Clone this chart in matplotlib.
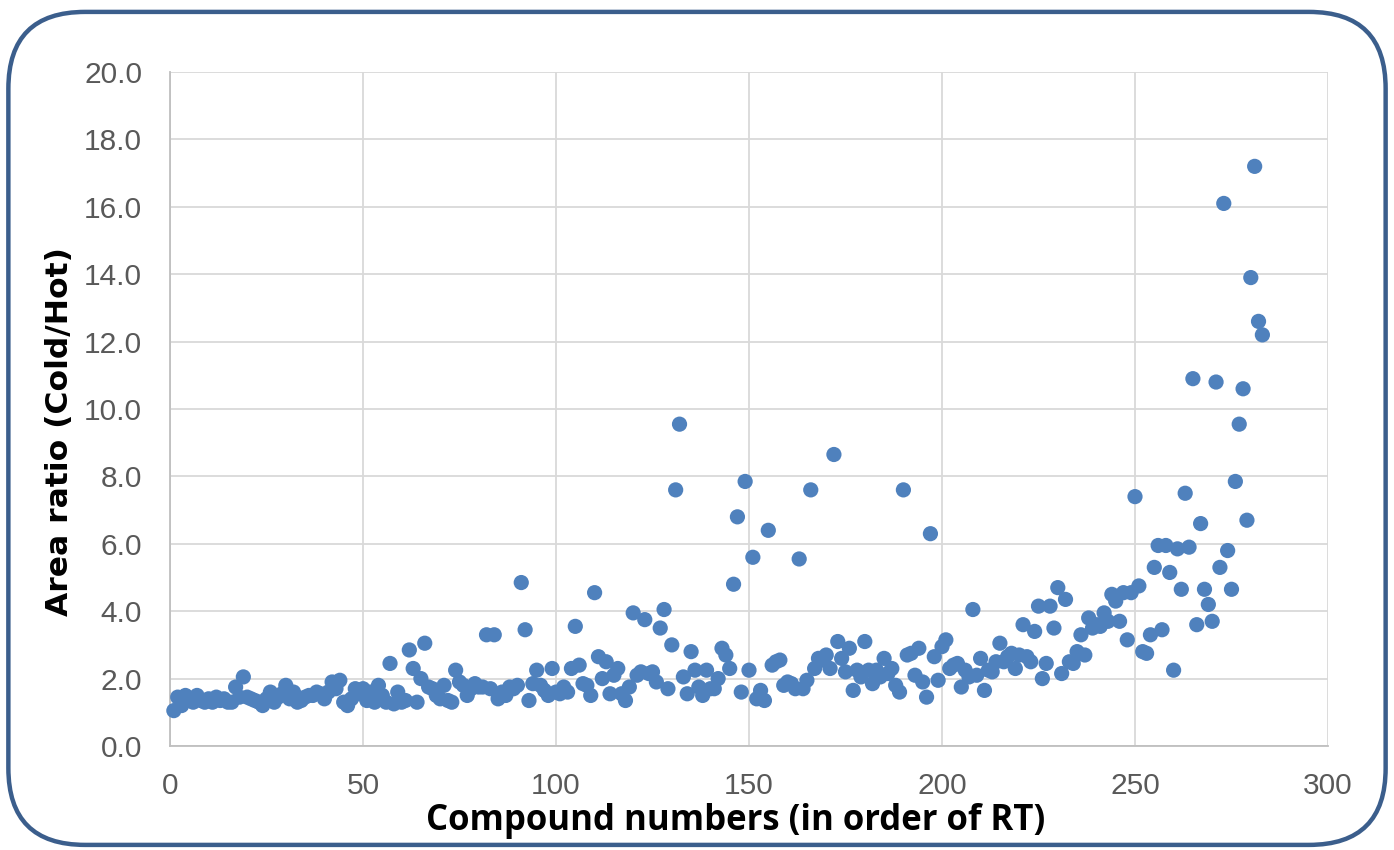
import matplotlib
matplotlib.use("Agg")
import matplotlib.pyplot as plt
from matplotlib.patches import FancyBboxPatch
from matplotlib.ticker import FormatStrFormatter, MultipleLocator

area_ratio = [
    1.05, 1.45, 1.2, 1.5, 1.35, 1.3, 1.5, 1.35, 1.3, 1.4,
    1.3, 1.45, 1.35, 1.4, 1.3, 1.3, 1.75, 1.45, 2.05, 1.45,
    1.4, 1.35, 1.3, 1.2, 1.4, 1.6, 1.3, 1.45, 1.55, 1.8,
    1.4, 1.6, 1.3, 1.35, 1.45, 1.5, 1.5, 1.6, 1.55, 1.4,
    1.6, 1.9, 1.7, 1.95, 1.3, 1.2, 1.4, 1.7, 1.55, 1.7,
    1.35, 1.6, 1.3, 1.8, 1.5, 1.3, 2.45, 1.25, 1.6, 1.3,
    1.35, 2.85, 2.3, 1.3, 2.0, 3.05, 1.75, 1.7, 1.5, 1.4,
    1.8, 1.35, 1.3, 2.25, 1.9, 1.8, 1.5, 1.7, 1.85, 1.75,
    1.75, 3.3, 1.7, 3.3, 1.4, 1.6, 1.5, 1.75, 1.7, 1.8,
    4.85, 3.45, 1.35, 1.85, 2.25, 1.8, 1.65, 1.5, 2.3, 1.6,
    1.55, 1.75, 1.6, 2.3, 3.55, 2.4, 1.85, 1.8, 1.5, 4.55,
    2.65, 2.0, 2.5, 1.55, 2.1, 2.3, 1.55, 1.35, 1.75, 3.95,
    2.1, 2.2, 3.75, 2.15, 2.2, 1.9, 3.5, 4.05, 1.7, 3.0,
    7.6, 9.55, 2.05, 1.55, 2.8, 2.25, 1.75, 1.5, 2.25, 1.7,
    1.7, 2.0, 2.9, 2.7, 2.3, 4.8, 6.8, 1.6, 7.85, 2.25,
    5.6, 1.4, 1.65, 1.35, 6.4, 2.4, 2.5, 2.55, 1.8, 1.9,
    1.85, 1.7, 5.55, 1.7, 1.95, 7.6, 2.3, 2.6, 2.55, 2.7,
    2.3, 8.65, 3.1, 2.6, 2.2, 2.9, 1.65, 2.25, 2.05, 3.1,
    2.25, 1.85, 2.25, 2.05, 2.6, 2.15, 2.3, 1.8, 1.6, 7.6,
    2.7, 2.75, 2.1, 2.9, 1.9, 1.45, 6.3, 2.65, 1.95, 2.95,
    3.15, 2.3, 2.4, 2.45, 1.75, 2.25, 2.05, 4.05, 2.1, 2.6,
    1.65, 2.25, 2.2, 2.5, 3.05, 2.5, 2.65, 2.75, 2.3, 2.7,
    3.6, 2.65, 2.5, 3.4, 4.15, 2.0, 2.45, 4.15, 3.5, 4.7,
    2.15, 4.35, 2.5, 2.45, 2.8, 3.3, 2.7, 3.8, 3.5, 3.6,
    3.55, 3.95, 3.7, 4.5, 4.3, 3.7, 4.55, 3.15, 4.55, 7.4,
    4.75, 2.8, 2.75, 3.3, 5.3, 5.95, 3.45, 5.95, 5.15, 2.25,
    5.85, 4.65, 7.5, 5.9, 10.9, 3.6, 6.6, 4.65, 4.2, 3.7,
    10.8, 5.3, 16.1, 5.8, 4.65, 7.85, 9.55, 10.6, 6.7, 13.9,
    17.2, 12.6, 12.2,
]
compound_numbers = list(range(1, len(area_ratio) + 1))

x_label = "Compound numbers (in order of RT)"
y_label = "Area ratio (Cold/Hot)"

plt.rcParams['font.family'] = ['Liberation Sans', 'DejaVu Sans']

W, H = 1394, 850
fig = plt.figure(figsize=(W / 100, H / 100), dpi=100)
border = FancyBboxPatch((0.006, 0.006), 0.988, 0.98,
                        boxstyle="round,pad=0,rounding_size=0.055",
                        transform=fig.transFigure, fill=False,
                        edgecolor="#3B5E8C", linewidth=3.2,
                        mutation_aspect=W / H)
fig.patches.append(border)

ax = fig.add_axes([170 / W, 1 - 746 / H, (1328 - 170) / W, (746 - 72) / H])
ax.scatter(compound_numbers, area_ratio, s=120, color="#4F81BD",
           edgecolors="none", zorder=3, clip_on=False)

ax.set_xlim(0, 300)
ax.set_ylim(0, 20)
ax.xaxis.set_major_locator(MultipleLocator(50))
ax.yaxis.set_major_locator(MultipleLocator(2))
ax.yaxis.set_major_formatter(FormatStrFormatter('%.1f'))
ax.grid(True, color="#D9D9D9", linewidth=1.3, zorder=0)
ax.set_axisbelow(True)
for side in ['top', 'right']:
    ax.spines[side].set_visible(False)
for side in ['left', 'bottom']:
    ax.spines[side].set_color("#BFBFBF")
    ax.spines[side].set_linewidth(1.3)
ax.tick_params(axis='both', length=0, labelsize=21.5, colors="#595959")
ax.tick_params(axis='y', pad=20)
ax.tick_params(axis='x', pad=19)

fig.text(736 / W, 1 - 821 / H, x_label, ha='center', va='center',
         fontsize=25, fontweight='bold', color='black',
         family=['Open Sans', 'DejaVu Sans'])
fig.text(59 / W, 1 - 432 / H, y_label, ha='center', va='center',
         rotation=90, fontsize=22.6, fontweight='bold', color='black',
         family=['DejaVu Sans'])

fig.savefig("out.png", dpi=100)
